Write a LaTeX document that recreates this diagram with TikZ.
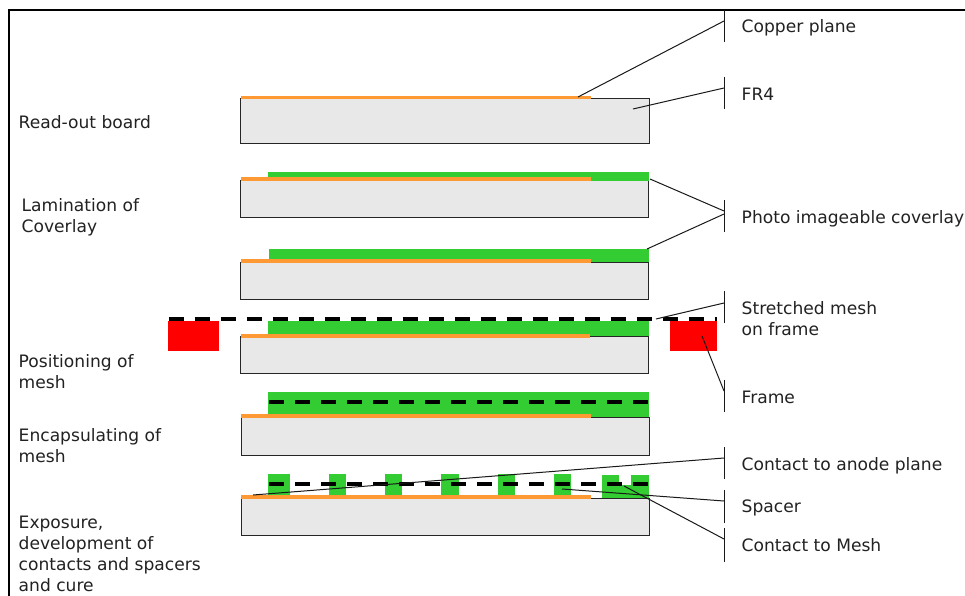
\documentclass[tikz,border=0pt]{standalone}
\usepackage{fontspec}
\setmainfont{DejaVu Sans}
\definecolor{fr}{HTML}{E8E8E8}
\definecolor{cu}{HTML}{FF9933}
\definecolor{cov}{HTML}{33CC33}
\definecolor{txt}{HTML}{222222}
\tikzset{
  x=1pt,y=-1pt,
  board/.style={draw=black!85,fill=fr,line width=1pt},
  copper/.style={fill=cu},
  coverlay/.style={fill=cov},
  frameblock/.style={fill=red},
  meshline/.style={draw=black,line width=3.8pt,dash pattern=on 15pt off 11pt},
  leader/.style={draw=black!90,line width=1pt},
  tick/.style={draw=black!90,line width=0.8pt},
  lab/.style={anchor=base west,inner sep=0pt,text=txt,align=left,font=\fontsize{17.1}{21}\selectfont},
}
\begin{document}
\begin{tikzpicture}
\useasboundingbox (0,0) rectangle (965,596);
\fill[white] (0,0) rectangle (965,596);
% outer frame
\draw[black,line width=2.1pt] (9,596) -- (9,10) -- (965,10);
% read-out board
\draw[board] (240.5,98.5) rectangle (649,143.5);
\fill[copper] (241,95.7) rectangle (591,99.5);
% lamination
\draw[board] (240,180) rectangle (648,217);
\fill[coverlay] (268,172) rectangle (649,181);
\fill[copper] (241,177) rectangle (591,181);
% laminated, second
\draw[board] (240,262) rectangle (648,299);
\fill[coverlay] (269,249) rectangle (649,262);
\fill[copper] (241,259) rectangle (591,262.5);
% positioning
\draw[board] (240,336) rectangle (648,373);
\fill[coverlay] (268,321) rectangle (649,336);
\fill[copper] (241,334) rectangle (590,337.5);
\fill[frameblock] (168,321) rectangle (219,351);
\fill[frameblock] (670,321) rectangle (717,351);
\coordinate (meshAL) at (168.5,319);
\coordinate (meshAR) at (717,319);
\draw[meshline] (meshAL) -- (meshAR);
% encapsulating
\draw[board] (241,417) rectangle (649,455);
\fill[coverlay] (268,392) rectangle (649,417);
\fill[copper] (241,414) rectangle (591,418);
\coordinate (meshBL) at (269,402);
\coordinate (meshBR) at (648,402);
\draw[meshline] (meshBL) -- (meshBR);
% exposure
\draw[board] (241,498) rectangle (649,535);
\foreach \xa/\xb in {268/290,329/346,385/402,441/459,498/515,554/571}
  \fill[coverlay] (\xa,473.5) rectangle (\xb,495.5);
\fill[coverlay] (602,475) rectangle (619,498);
\fill[coverlay] (631,475) rectangle (649,498);
\fill[coverlay] (602,485) rectangle (649,498);
\fill[copper] (241,495) rectangle (591,498.5);
\coordinate (meshCL) at (269,484);
\coordinate (meshCR) at (648,484);
\draw[meshline] (meshCL) -- (meshCR);
% tick marks
\foreach \n/\ya/\yb in {cu/10/42,fr/77/109,ph/200/232,me/291/323,fa/380/412,an/447/479,sp/490/523,cm/528/562}{
  \coordinate (t\n a) at (724,\ya);
  \coordinate (t\n b) at (724,\yb);
  \draw[tick] (t\n a) -- (t\n b);
}
% leader ends
\coordinate (cuA) at (578,97);   \coordinate (cuB) at (724,21);
\coordinate (frA) at (633,109);  \coordinate (frB) at (724,88);
\coordinate (phA) at (650,179);  \coordinate (phB) at (724,211);
\coordinate (phC) at (647,249);  \coordinate (phD) at (724,214);
\coordinate (meA) at (656,319);  \coordinate (meB) at (724,303);
\coordinate (faA) at (702,336);  \coordinate (faB) at (724,391);
\coordinate (anA) at (253,495);  \coordinate (anB) at (724,458);
\coordinate (spA) at (562,489);  \coordinate (spB) at (724,501);
\coordinate (cmA) at (624,486);  \coordinate (cmB) at (724,539);
\foreach \a/\b in {cuA/cuB,frA/frB,phA/phB,phC/phD,meA/meB,faA/faB,anA/anB,spA/spB,cmA/cmB}
  \draw[leader] (\a) -- (\b);
% right labels
\node[lab] (lcu) at (741.5,32.5) {Copper plane};
\node[lab] (lfr) at (741.5,100.5) {FR4};
\node[lab] (lph) at (741.5,223.5) {Photo imageable coverlay};
\node[lab] (lme) at (741.5,314.5) {Stretched mesh};
\node[lab] (lme2) at (741.5,335.5) {on frame};
\node[lab] (lfa) at (741.5,403.5) {Frame};
\node[lab] (lan) at (741.5,470.5) {Contact to anode plane};
\node[lab] (lsp) at (741.5,512.5) {Spacer};
\node[lab] (lcm) at (741.5,551.5) {Contact to Mesh};
% left labels
\node[lab] (s1) at (18.5,128.5) {Read-out board};
\node[lab] (s2) at (21.5,211.5) {Lamination of};
\node[lab] (s2b) at (21.5,232.5) {Coverlay};
\node[lab] (s3) at (18.5,367.5) {Positioning of};
\node[lab] (s3b) at (18.5,388.5) {mesh};
\node[lab] (s4) at (18.5,441.5) {Encapsulating of};
\node[lab] (s4b) at (18.5,462.5) {mesh};
\node[lab] (s5) at (18.5,528.5) {Exposure,};
\node[lab] (s5b) at (18.5,549.5) {development of};
\node[lab] (s5c) at (18.5,570.5) {contacts and spacers};
\node[lab] (s5d) at (18.5,591.5) {and cure};
\end{tikzpicture}
\end{document}
